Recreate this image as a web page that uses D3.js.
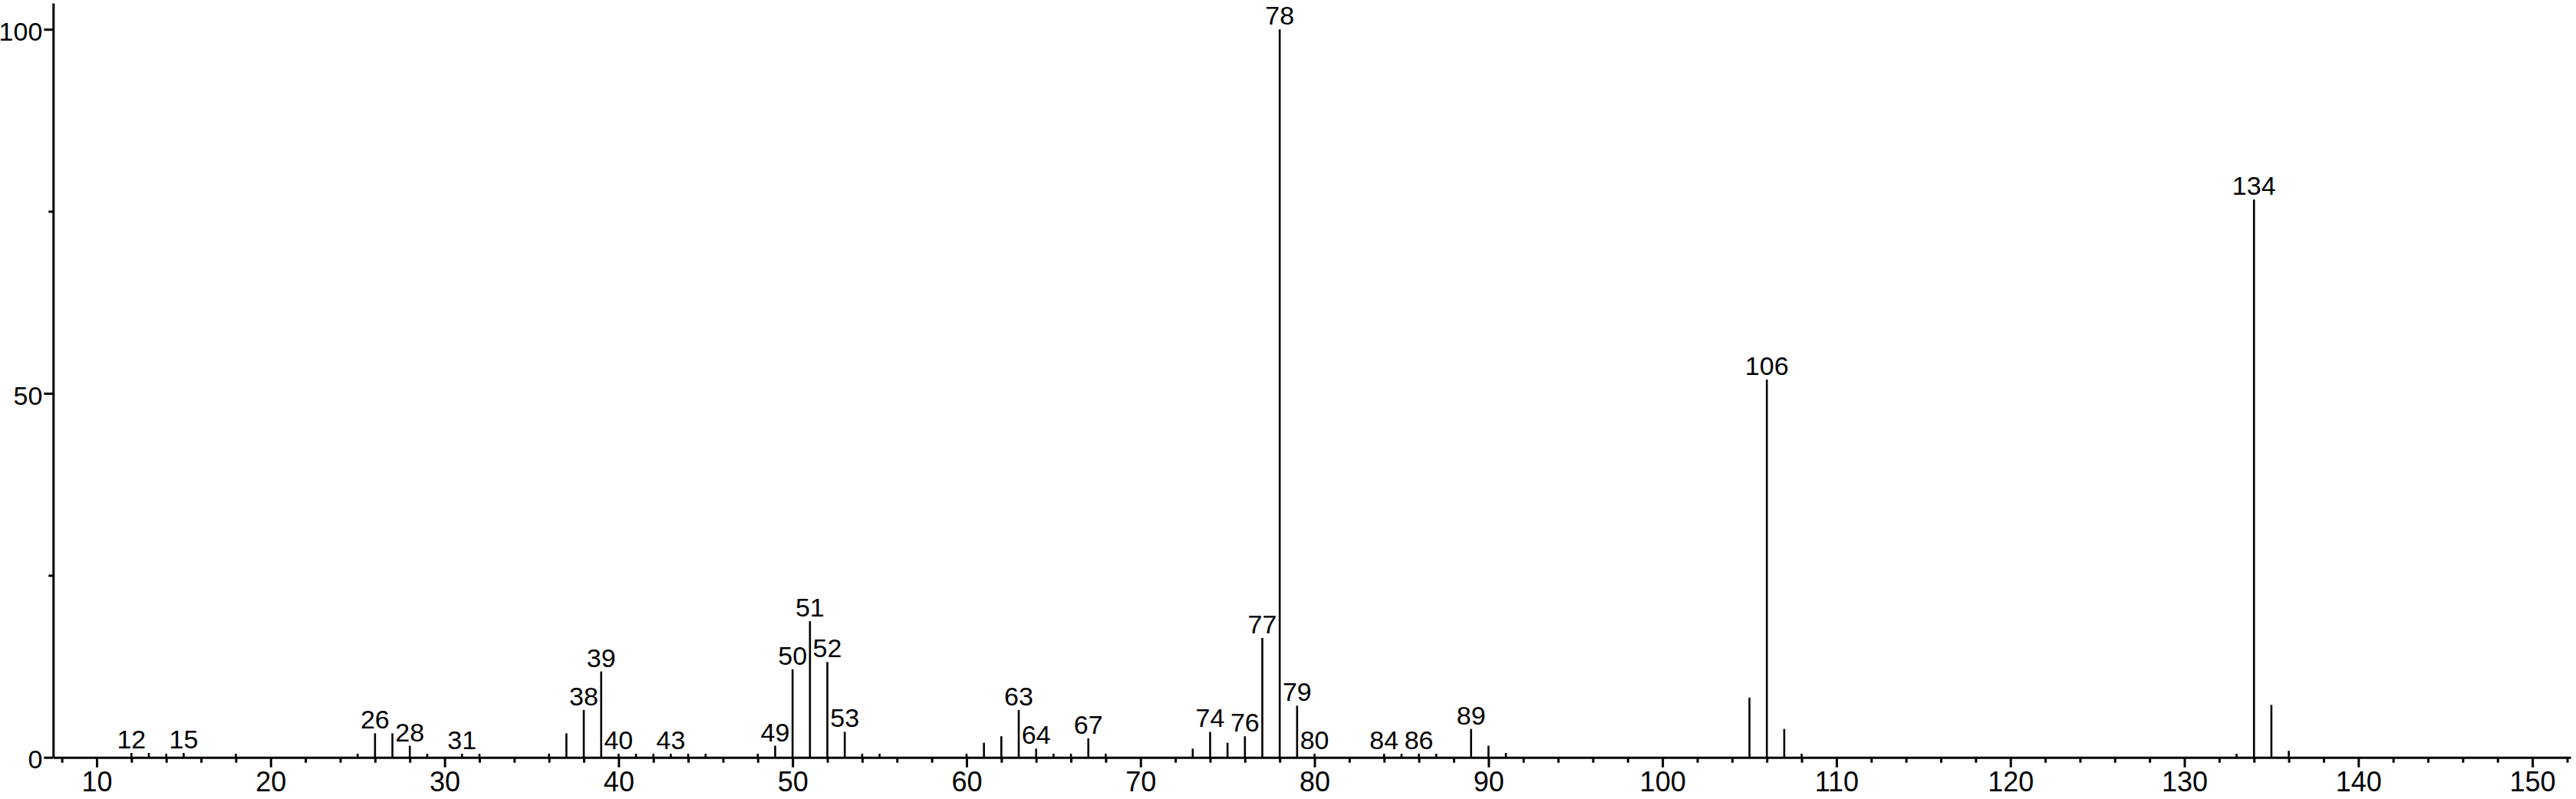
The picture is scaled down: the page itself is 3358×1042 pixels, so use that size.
<!DOCTYPE html>
<html>
<head>
<meta charset="utf-8">
<script src="https://cdn.jsdelivr.net/npm/d3@7/dist/d3.min.js"></script>
<style>
  body { margin: 0; background: #fff; }
  text { font-family: "Liberation Sans", Arial, sans-serif; fill: #000; }
</style>
</head>
<body>
<div id="my_dataviz"></div>
<script>
// mass spectrum peaks (m/z and relative intensity, %)
var masses = [12, 13, 14, 15, 18, 25, 26, 27, 28, 29, 31, 32, 36, 37, 38, 39, 40, 41, 42, 43, 44, 45,
  48, 49, 50, 51, 52, 53, 54, 55, 60, 61, 62, 63, 64, 65, 66, 67, 68, 73, 74, 75, 76, 77, 78, 79, 80,
  84, 85, 86, 87, 89, 90, 91, 105, 106, 107, 108, 133, 134, 135, 136];
var intensities = [0.6, 0.6, 0.5, 0.6, 0.5, 0.5, 3.3, 3.3, 1.6, 0.5, 0.5, 0.5, 0.5, 3.3, 6.5, 11.8, 0.5, 0.5, 0.5, 0.5, 0.5, 0.5,
  0.5, 1.6, 12.1, 18.7, 13.1, 3.5, 0.5, 0.5, 0.5, 2.0, 2.9, 6.5, 1.2, 0.5, 0.5, 2.6, 0.5, 1.2, 3.5, 2.0, 2.9, 16.4, 100, 7.1, 0.5,
  0.5, 0.5, 0.5, 0.5, 3.9, 1.6, 0.6, 8.2, 51.9, 3.9, 0.5, 0.5, 76.6, 7.2, 0.9];
// peaks that carry a mass label
var labelled = [12, 15, 26, 28, 31, 38, 39, 40, 43, 49, 50, 51, 52, 53, 63, 64, 67, 74, 76, 77, 78, 79, 80,
  84, 86, 89, 106, 134];

var xTicks = [10, 20, 30, 40, 50, 60, 70, 80, 90, 100, 110, 120, 130, 140, 150];
var yTicks = [0, 50, 100];
var yMinorTicks = [25, 75];

var peaks = masses.map(function(m, i) { return {mass: m, value: intensities[i]}; });

var W = 3358, H = 1042;
var x0 = 69.3, y0 = 987.7;

var svg = d3.select("#my_dataviz")
  .append("svg")
    .attr("width", W)
    .attr("height", H)
    .style("background", "#fff");

var x = d3.scaleLinear()
  .domain([7.5, 152.2])
  .range([x0, 3351]);

var y = d3.scaleLinear()
  .domain([0, 103.6])
  .range([y0, 4]);

// minor x ticks every 2 units
var xMinor = d3.range(8, 153, 2).filter(function(d) { return d % 10 != 0; });

svg.append("g")
  .attr("transform", "translate(0," + y0 + ")")
  .call(d3.axisBottom(x).tickValues(xMinor).tickSize(7).tickSizeOuter(0).tickFormat(""))
  .call(function(g) { g.select(".domain").remove(); })
  .selectAll("line").attr("stroke-width", 3);

svg.append("g")
  .attr("class", "xaxis")
  .attr("transform", "translate(0," + y0 + ")")
  .call(d3.axisBottom(x).tickValues(xTicks).tickSize(13).tickSizeOuter(0).tickPadding(6))
  .call(function(g) {
    g.select(".domain").attr("stroke-width", 3);
    g.selectAll("line").attr("stroke-width", 3);
    g.selectAll("text").style("font-size", "36px").attr("fill", "#000");
  });

// y axis
svg.append("g")
  .attr("transform", "translate(" + x0 + ",0)")
  .call(d3.axisLeft(y).tickValues(yMinorTicks).tickSize(6).tickSizeOuter(0).tickFormat(""))
  .call(function(g) { g.select(".domain").remove(); })
  .selectAll("line").attr("stroke-width", 3);

svg.append("g")
  .attr("transform", "translate(" + x0 + ",0)")
  .call(d3.axisLeft(y).tickValues(yTicks).tickSize(12).tickSizeOuter(0).tickPadding(2))
  .call(function(g) {
    g.select(".domain").attr("stroke-width", 3);
    g.selectAll("line").attr("stroke-width", 3);
    g.selectAll("text").style("font-size", "34px").attr("dy", "0.42em").attr("fill", "#000");
  });

// peaks
svg.selectAll("line.peak")
  .data(peaks)
  .enter()
  .append("line")
    .attr("class", "peak")
    .attr("x1", function(d) { return x(d.mass); })
    .attr("x2", function(d) { return x(d.mass); })
    .attr("y1", y(0))
    .attr("y2", function(d) { return y(d.value); })
    .attr("stroke", "#000")
    .attr("stroke-width", 2.6);

// peak labels
svg.selectAll("text.peaklabel")
  .data(peaks.filter(function(d) { return labelled.indexOf(d.mass) >= 0; }))
  .enter()
  .append("text")
    .attr("class", "peaklabel")
    .attr("x", function(d) { return x(d.mass); })
    .attr("y", function(d) { return y(d.value) - 6; })
    .attr("text-anchor", "middle")
    .style("font-size", "34px")
    .text(function(d) { return d.mass; });
</script>
</body>
</html>
